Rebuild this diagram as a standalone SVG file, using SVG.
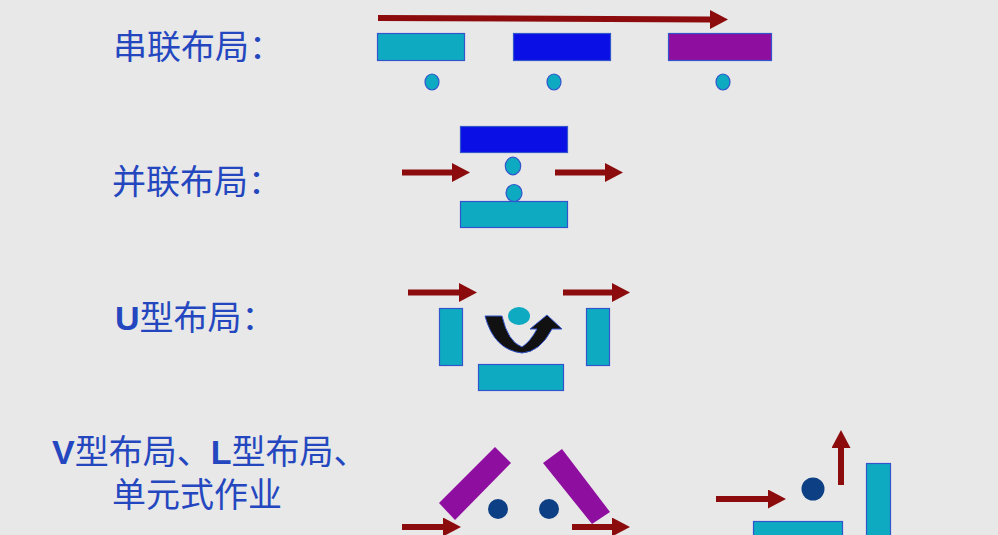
<svg xmlns="http://www.w3.org/2000/svg" width="998" height="535" viewBox="0 0 998 535">
<defs>
<marker id="ah" viewBox="0 0 18 19" markerWidth="18" markerHeight="19" refX="0" refY="9.5" markerUnits="userSpaceOnUse" orient="auto">
<path d="M0,0 L18,9.5 L0,19 Z" fill="#8c0c0e"/>
</marker>
<style>
.lbl{font-family:"Noto Sans CJK SC","Noto Sans",sans-serif;font-size:34px;fill:#2447c0}
.lat{font-family:"Liberation Sans",Arial,sans-serif;font-weight:bold}
.arr{stroke:#8c0c0e;stroke-width:6;fill:none;marker-end:url(#ah)}
.cy{fill:#0eaac2;stroke:#3355cc;stroke-width:1.2}
.bl{fill:#0a0fe6;stroke:#3355cc;stroke-width:1.2}
.pu{fill:#8e0f9f;stroke:#3355cc;stroke-width:1.2}
.pv{fill:#8e0f9f}
.dot{fill:#0eaac2;stroke:#3355cc;stroke-width:1.2}
.nv{fill:#0d3f85}
</style>
</defs>
<rect width="998" height="535" fill="#e8e8e8"/>

<g id="labels">
<text class="lbl" x="113" y="59">串联布局：</text>
<text class="lbl" x="112" y="194">并联布局：</text>
<text class="lbl" x="115" y="330"><tspan class="lat">U</tspan>型布局：</text>
<text class="lbl" x="52" y="464"><tspan class="lat">V</tspan>型布局、<tspan class="lat">L</tspan>型布局、</text>
<text class="lbl" x="112" y="507">单元式作业</text>
</g>

<g id="series">
<rect class="cy" x="377.5" y="33.5" width="87" height="27"/>
<rect class="bl" x="513.5" y="33.5" width="97" height="27"/>
<rect class="pu" x="668.5" y="33.5" width="103" height="27"/>
<ellipse class="dot" cx="432" cy="82" rx="7" ry="8"/>
<ellipse class="dot" cx="554" cy="82" rx="7" ry="8"/>
<ellipse class="dot" cx="723" cy="82" rx="7" ry="8"/>
</g>

<g id="parallel">
<rect class="bl" x="460.5" y="126.5" width="107" height="26"/>
<rect class="cy" x="460.5" y="201.5" width="107" height="26"/>
<ellipse class="dot" cx="513" cy="166" rx="7.7" ry="8.8"/>
<ellipse class="dot" cx="514" cy="193" rx="8" ry="8.5"/>
</g>

<g id="u-layout">
<rect class="cy" x="439.5" y="308.5" width="23" height="57"/>
<rect class="cy" x="586.5" y="308.5" width="23" height="57"/>
<rect class="cy" x="478.5" y="364.5" width="85" height="26"/>
<ellipse cx="519" cy="316" rx="11" ry="9" fill="#0eaac2"/>
<path d="M485,316 L502,316 Q508,342 522,347 Q530,342 537,329 L530,329 L547,315 L562,329 L552,329 Q540,352 522,353 Q494,350 485,316 Z" fill="#111" stroke="#3355cc" stroke-width="1"/>
</g>

<g id="v-layout">
<polygon class="pv" points="439,503 495,447 511,463 455,520"/>
<polygon class="pv" points="543,463 562,449 610,512 592,524"/>
<circle class="nv" cx="498" cy="509" r="10"/>
<circle class="nv" cx="549" cy="509" r="10"/>
</g>

<g id="l-layout">
<circle class="nv" cx="813" cy="489" r="11.5"/>
<rect class="cy" x="866.5" y="463.5" width="24" height="80"/>
<rect class="cy" x="753.5" y="521.5" width="89" height="30"/>
</g>

<g id="connectors">
<line class="arr" x1="378" y1="18" x2="710" y2="19.5"/>
<line class="arr" x1="402" y1="172.5" x2="452" y2="172.5"/>
<line class="arr" x1="555" y1="172.5" x2="605" y2="172.5"/>
<line class="arr" x1="408" y1="292.5" x2="459" y2="292.5"/>
<line class="arr" x1="563" y1="292.5" x2="612" y2="292.5"/>
<line class="arr" x1="402" y1="527" x2="443" y2="527"/>
<line class="arr" x1="572" y1="527" x2="612" y2="527"/>
<line class="arr" x1="716" y1="499" x2="768" y2="499"/>
<line class="arr" x1="841" y1="485" x2="841" y2="448"/>
</g>
</svg>
